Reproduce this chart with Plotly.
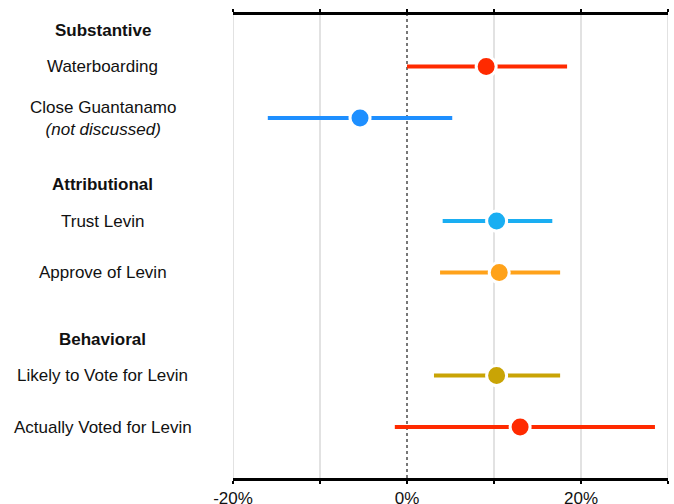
import plotly.graph_objects as go

# Data (percentage-point effects)
items = ["Waterboarding", "Close Guantanamo<br><i>(not discussed)</i>", "Trust Levin",
         "Approve of Levin", "Likely to Vote for Levin", "Actually Voted for Levin"]
item_rows = [1, 2, 4, 5, 7, 8]
estimates = [9.1, -5.4, 10.3, 10.6, 10.3, 13.0]
lower = [0.0, -16.0, 4.1, 3.8, 3.1, -1.4]
upper = [18.4, 5.2, 16.7, 17.6, 17.6, 28.5]
colors = ["#ff2a00", "#1e8fff", "#1aaef2", "#ffa21a", "#c9a405", "#ff2a00"]

headers = ["Substantive", "Attributional", "Behavioral"]
header_rows = [0.3, 3.3, 6.3]

tick_vals = [-20, -10, 0, 10, 20, 30]
tick_text = ["-20%", "", "0%", "", "20%", ""]

fig = go.Figure()

for name, r, est, lo, hi, c in zip(items, item_rows, estimates, lower, upper, colors):
    fig.add_trace(go.Scatter(
        x=[est], y=[r], mode="markers",
        marker=dict(size=20, color=c, line=dict(color="white", width=3)),
        error_x=dict(type="data", symmetric=False, array=[hi - est], arrayminus=[est - lo],
                     color=c, thickness=4, width=0),
        showlegend=False, hoverinfo="skip"))

# Gridlines (excluding zero, which is dotted)
for v in tick_vals:
    if v != 0:
        fig.add_shape(type="line", xref="x", yref="paper", x0=v, x1=v, y0=0, y1=1,
                      line=dict(color="#d9d9d9", width=1.5), layer="below")
fig.add_shape(type="line", xref="x", yref="paper", x0=0, x1=0, y0=0, y1=1,
              line=dict(color="#777777", width=2, dash="dot"), layer="below")

FONT = "Liberation Sans, Arial, sans-serif"
for name, r in zip(items, item_rows):
    fig.add_annotation(x=-0.299, xref="paper", y=r, yref="y", text=name, showarrow=False,
                       xanchor="center", yanchor="middle", align="center",
                       font=dict(size=17, color="#111111", family=FONT))
for h, r in zip(headers, header_rows):
    fig.add_annotation(x=-0.299, xref="paper", y=r, yref="y", text="<b>" + h + "</b>",
                       showarrow=False, xanchor="center", yanchor="middle",
                       font=dict(size=17, color="#111111", family=FONT))

fig.update_xaxes(range=[-20, 30], tickvals=tick_vals, ticktext=tick_text, showgrid=False,
                 zeroline=False, showline=True, linecolor="black", linewidth=2.5,
                 mirror="ticks", ticks="outside", ticklen=3, tickwidth=2, tickcolor="black",
                 tickfont=dict(size=17, color="#111111", family=FONT), automargin=False)
fig.update_yaxes(range=[8.99, 0], showgrid=False, zeroline=False, showticklabels=False,
                 showline=False, automargin=False)

fig.update_layout(width=674, height=504,
                  margin=dict(l=233, r=6, t=15, b=26, autoexpand=False),
                  plot_bgcolor="white", paper_bgcolor="white", font=dict(family=FONT))

fig.write_html("out.html", config={"displayModeBar": False},
               post_script="document.body.style.margin='0';document.body.style.overflow='hidden';")
